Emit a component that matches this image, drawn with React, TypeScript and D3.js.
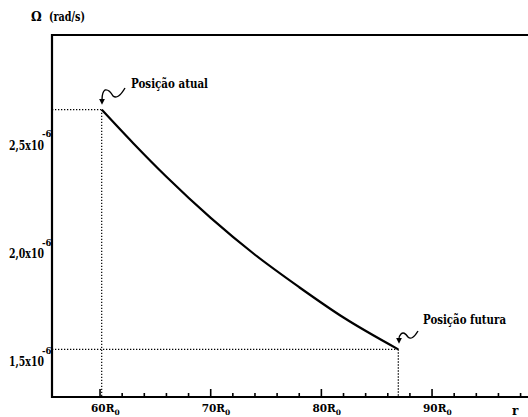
import React, { useEffect, useRef } from "react";
import * as d3 from "d3";

// r in units of R0, omega in units of 1e-6 rad/s
const radius = [60.15, 63, 66, 70, 74, 78, 82, 86.95];
const omega = [2.66, 2.505, 2.35, 2.16, 1.99, 1.84, 1.70, 1.553];

const xMajor = [60, 70, 80, 90];
const xMinor = d3.range(62, 100, 2).filter((v) => v % 10 !== 0);
const yMajor = [1.5, 2.0, 2.5];
const yMinor = [1.4, 1.6, 1.7, 1.8, 1.9, 2.1, 2.2, 2.3, 2.4, 2.6, 2.7, 2.8, 2.9];
const yLabels = ["1,5x10", "2,0x10", "2,5x10"];

const W = 528;
const H = 417;
const FONT = "'DejaVu Serif', 'Liberation Serif', serif";

function OmegaChart() {
  const ref = useRef<SVGSVGElement>(null);

  useEffect(() => {
    const svg = d3.select(ref.current);
    svg.selectAll("*").remove();

    const x = d3.scaleLinear().domain([55.66, 98.67]).range([52, 528]);
    const y = d3.scaleLinear().domain([1.333, 3.005]).range([397, 35]);

    const txt = (sel: any, size: number) =>
      sel.style("font-family", FONT).style("font-weight", "bold").style("font-size", size + "px");

    svg.append("defs")
      .append("marker")
      .attr("id", "arrow")
      .attr("viewBox", "0 0 10 10")
      .attr("refX", 2)
      .attr("refY", 5)
      .attr("markerWidth", 6)
      .attr("markerHeight", 6)
      .attr("markerUnits", "userSpaceOnUse")
      .attr("orient", "auto")
      .append("path")
      .attr("d", "M0,0 L10,5 L0,10 z")
      .attr("fill", "#000");

    // frame / axes
    svg.append("line")
      .attr("x1", x(55.66)).attr("x2", W).attr("y1", y(3.005)).attr("y2", y(3.005))
      .attr("stroke", "#000").attr("stroke-width", 2);
    svg.append("line")
      .attr("x1", x(55.66)).attr("x2", x(55.66)).attr("y1", y(3.005) - 1).attr("y2", y(1.333) + 1)
      .attr("stroke", "#000").attr("stroke-width", 2.2);
    svg.append("line")
      .attr("x1", x(55.66) - 1).attr("x2", W).attr("y1", y(1.333)).attr("y2", y(1.333))
      .attr("stroke", "#000").attr("stroke-width", 2.2);

    // x ticks
    svg.selectAll(".xmaj").data(xMajor).enter().append("line")
      .attr("x1", (d) => x(d)).attr("x2", (d) => x(d))
      .attr("y1", y(1.333)).attr("y2", y(1.333) - 8)
      .attr("stroke", "#000").attr("stroke-width", 1.6);
    svg.selectAll(".xmin").data(xMinor).enter().append("line")
      .attr("x1", (d) => x(d)).attr("x2", (d) => x(d))
      .attr("y1", y(1.333)).attr("y2", y(1.333) - 4)
      .attr("stroke", "#000").attr("stroke-width", 1.6);

    // x labels: "60R" with subscript 0, in one text element
    const xl = txt(svg.selectAll(".xlab").data(xMajor).enter().append("text")
      .attr("x", (d) => x(d) - 9).attr("y", 412), 10.5);
    xl.append("tspan").text((d) => d + "R");
    xl.append("tspan").attr("dy", 3).style("font-size", "7.5px").text("0");
    txt(svg.append("text").attr("x", 512).attr("y", 415), 12)
      .text("r");

    // y labels
    const yl = svg.selectAll(".ylab").data(yMajor).enter().append("g")
      .attr("transform", (d) => `translate(0,${y(d)})`);
    txt(yl.append("text")
      .attr("x", 44).attr("y", 5.5)
      .attr("text-anchor", "end")
      .attr("textLength", 35).attr("lengthAdjust", "spacingAndGlyphs"), 12)
      .text((d, i) => yLabels[i]);
    txt(yl.append("text").attr("x", 42).attr("y", -7), 8.5)
      .text("-6");

    // axis title
    txt(svg.append("text").attr("x", 31).attr("y", 21), 12).text("Ω");
    txt(svg.append("text").attr("x", 49).attr("y", 21)
      .attr("textLength", 36).attr("lengthAdjust", "spacingAndGlyphs"), 12)
      .text("(rad/s)");

    // reference dotted lines at start and end positions
    const n = radius.length - 1;
    const guides = [
      [radius[0], omega[0]],
      [radius[n], omega[n]],
    ];
    guides.forEach(([r, w]) => {
      svg.append("line")
        .attr("x1", x(55.66)).attr("x2", x(r)).attr("y1", y(w)).attr("y2", y(w))
        .attr("stroke", "#000").attr("stroke-width", 1.2).attr("stroke-dasharray", "1.3,1.7");
      svg.append("line")
        .attr("x1", x(r)).attr("x2", x(r)).attr("y1", y(w)).attr("y2", y(1.333))
        .attr("stroke", "#000").attr("stroke-width", 1.2).attr("stroke-dasharray", "1.3,1.7");
    });

    // curve
    const line = d3.line<number>()
      .x((d, i) => x(radius[i]))
      .y((d) => y(d))
      .curve(d3.curveMonotoneX);
    svg.append("path")
      .attr("d", line(omega))
      .attr("fill", "none")
      .attr("stroke", "#000")
      .attr("stroke-width", 2.2);

    // annotations
    svg.append("path")
      .attr("d", "M125,88 Q118,100 113,96 Q109,89 105,90 Q102,92 102,100")
      .attr("fill", "none").attr("stroke", "#000").attr("stroke-width", 1.4)
      .attr("marker-end", "url(#arrow)");
    txt(svg.append("text").attr("x", 131).attr("y", 88)
      .attr("textLength", 77).attr("lengthAdjust", "spacingAndGlyphs"), 12.5)
      .text("Posição atual");

    svg.append("path")
      .attr("d", "M418,331 Q412,341 408,337 Q404,331 401,334 Q399,336 399,339")
      .attr("fill", "none").attr("stroke", "#000").attr("stroke-width", 1.4)
      .attr("marker-end", "url(#arrow)");
    txt(svg.append("text").attr("x", 423).attr("y", 324)
      .attr("textLength", 83).attr("lengthAdjust", "spacingAndGlyphs"), 12.5)
      .text("Posição futura");
  }, []);

  return (
    <svg
      ref={ref}
      width={W}
      height={H}
      style={{ position: "absolute", left: 0, top: 0, background: "#fff" }}
    />
  );
}

export default function App() {
  return <OmegaChart />;
}
